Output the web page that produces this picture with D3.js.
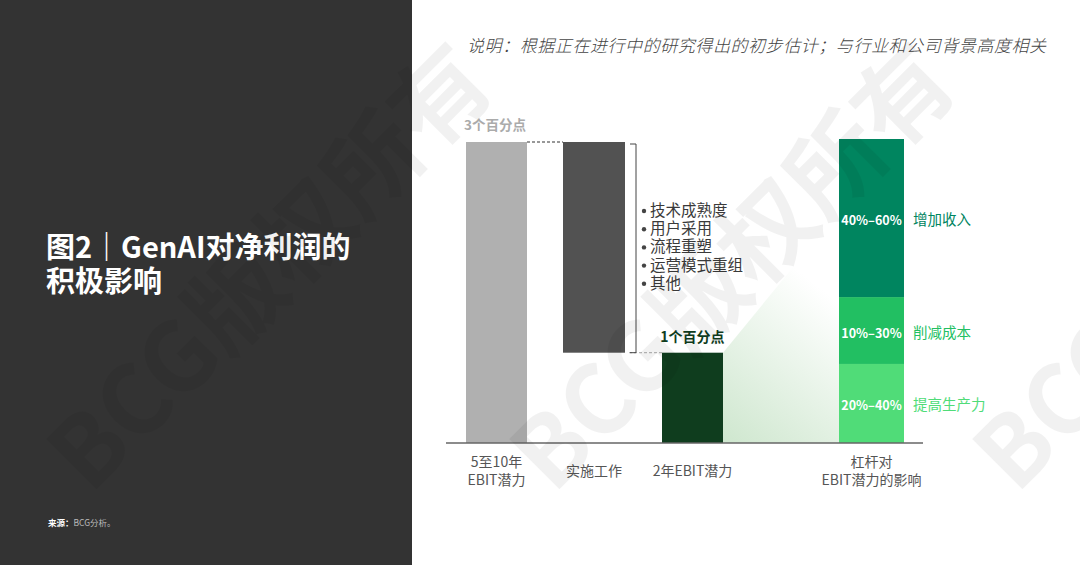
<!DOCTYPE html>
<html><head><meta charset="utf-8">
<script src="https://cdn.jsdelivr.net/npm/d3@7/dist/d3.min.js"></script>
<style>
html,body{margin:0;padding:0;background:#fff;}
svg{display:block;font-family:"Noto Sans CJK SC","Noto Sans",sans-serif;}
</style></head>
<body>
<svg id="chart" width="1080" height="565"></svg>
<script>
// ---------- data ----------
const categories = ["5至10年\nEBIT潜力", "实施工作", "2年EBIT潜力", "杠杆对\nEBIT潜力的影响"];
const potentialPoints = 3;        // 5-10 year EBIT potential (pp)
const twoYearPoints = 0.9;        // 2-year EBIT potential as drawn
const topLabel = "3个百分点";
const twoYearLabel = "1个百分点";
const barriers = ["技术成熟度", "用户采用", "流程重塑", "运营模式重组", "其他"];
const leverNames = ["提高生产力", "削减成本", "增加收入"];
const leverRanges = ["20%–40%", "10%–30%", "40%–60%"];
const leverShares = [26, 22, 52];  // share of stacked bar height
const title = ["图2｜GenAI对净利润的", "积极影响"];
const note = "说明：根据正在进行中的研究得出的初步估计；与行业和公司背景高度相关";
const sourceLabel = "来源：";
const sourceText = "BCG分析。";
const watermark = "BCG版权所有";

// ---------- layout ----------
const svg = d3.select("#chart");
const W = 1080, H = 565;
const panelW = 412;
const base = 443;

svg.append("rect").attr("x", 0).attr("y", 0).attr("width", panelW).attr("height", H).attr("fill", "#333333");

const x = d3.scaleOrdinal().domain(categories).range([496.5, 594, 692.5, 871.5]);
const barW = d3.scaleOrdinal().domain(categories).range([61, 62, 61, 65]);
const y = d3.scaleLinear().domain([0, potentialPoints]).range([base, 142]);
const yShare = d3.scaleLinear().domain([0, d3.sum(leverShares)]).range([base, 139]);

const defs = svg.append("defs");
const grad = defs.append("linearGradient").attr("id", "g1")
  .attr("gradientUnits", "userSpaceOnUse")
  .attr("x1", 723).attr("y1", 440).attr("x2", 835).attr("y2", 300);
grad.append("stop").attr("offset", 0).attr("stop-color", "#cfe7cf");
grad.append("stop").attr("offset", 1).attr("stop-color", "#ffffff");

// gradient wedge between 2-year bar and lever bar
const c2 = categories[2], c3 = categories[3];
const gx0 = x(c2) + barW(c2) / 2, gx1 = x(c3) - barW(c3) / 2;
svg.append("path")
  .attr("d", `M${gx0},${base} L${gx0},${y(twoYearPoints)} L${gx1},${y(twoYearPoints) - (gx1 - gx0) * 1.22} L${gx1},${base} Z`)
  .attr("fill", "url(#g1)");

// bar 1
const c0 = categories[0], c1 = categories[1];
svg.append("rect").attr("x", x(c0) - barW(c0) / 2).attr("width", barW(c0))
  .attr("y", y(potentialPoints)).attr("height", base - y(potentialPoints)).attr("fill", "#b0b0b0");
// bar 2 (implementation gap, floating)
svg.append("rect").attr("x", x(c1) - barW(c1) / 2).attr("width", barW(c1))
  .attr("y", y(potentialPoints)).attr("height", y(twoYearPoints) - y(potentialPoints)).attr("fill", "#525252");
// bar 3
svg.append("rect").attr("x", x(c2) - barW(c2) / 2).attr("width", barW(c2))
  .attr("y", y(twoYearPoints)).attr("height", base - y(twoYearPoints)).attr("fill", "#0f3d1e");

// dashed connectors
svg.append("line").attr("x1", x(c0) + barW(c0) / 2).attr("x2", x(c1) - barW(c1) / 2)
  .attr("y1", y(potentialPoints)).attr("y2", y(potentialPoints))
  .attr("stroke", "#777").attr("stroke-width", 1.5).attr("stroke-dasharray", "3,2");
svg.append("line").attr("x1", x(c1) + barW(c1) / 2 + 4).attr("x2", x(c2) - barW(c2) / 2)
  .attr("y1", y(twoYearPoints)).attr("y2", y(twoYearPoints))
  .attr("stroke", "#aaa").attr("stroke-width", 1).attr("stroke-dasharray", "3,2");

// bracket
const bx = x(c1) + barW(c1) / 2 + 11;
svg.append("path")
  .attr("d", `M${bx - 6},${y(potentialPoints) + 2} H${bx} V${y(twoYearPoints)} H${bx - 6}`)
  .attr("fill", "none").attr("stroke", "#444").attr("stroke-width", 1);

// barrier bullet list
const bl = svg.append("g");
barriers.forEach((t, i) => {
  const yy = 216 + i * 18.2;
  bl.append("circle").attr("cx", bx + 8).attr("cy", yy - 5).attr("r", 2.2).attr("fill", "#444");
  bl.append("text").attr("x", bx + 14).attr("y", yy).attr("font-size", 15.5).attr("fill", "#3a3a3a").text(t);
});

// stacked lever bar
let cum = 0;
const levColors = ["#50dc78", "#22bf62", "#00855f"];
leverShares.forEach((s, i) => {
  const y0 = yShare(cum), y1 = yShare(cum + s);
  cum += s;
  svg.append("rect").attr("x", x(c3) - barW(c3) / 2).attr("width", barW(c3))
    .attr("y", y1).attr("height", y0 - y1).attr("fill", levColors[i]);
  const cy = (y0 + y1) / 2 + 2;
  svg.append("text").attr("x", x(c3)).attr("y", cy + 5).attr("text-anchor", "middle")
    .attr("font-size", 12.5).attr("font-weight", 700).attr("fill", "#fff").text(leverRanges[i]);
  svg.append("text").attr("x", x(c3) + barW(c3) / 2 + 9).attr("y", cy + 5)
    .attr("font-size", 14.5).attr("fill", levColors[i]).text(leverNames[i]);
});

// baseline
svg.append("line").attr("x1", 446).attr("x2", 923).attr("y1", base).attr("y2", base)
  .attr("stroke", "#666").attr("stroke-width", 1.5);

// category labels
categories.forEach(c => {
  const lines = c.split("\n");
  const startY = lines.length === 1 ? 476 : 467;
  lines.forEach((l, i) => {
    svg.append("text").attr("x", x(c)).attr("y", startY + i * 18).attr("text-anchor", "middle")
      .attr("font-size", 14).attr("fill", "#555").text(l);
  });
});

// value labels
svg.append("text").attr("x", x(c0) - barW(c0) / 2 - 2).attr("y", 130)
  .attr("font-size", 13.5).attr("font-weight", 700).attr("fill", "#ababab").text(topLabel);
svg.append("text").attr("x", x(c2)).attr("y", 342).attr("text-anchor", "middle")
  .attr("font-size", 14).attr("font-weight", 700).attr("fill", "#0f3d1e").text(twoYearLabel);

// note
svg.append("text").attr("x", 467).attr("y", 52)
  .attr("textLength", 579).attr("lengthAdjust", "spacing")
  .attr("font-size", 17).attr("font-style", "italic").attr("font-weight", 300)
  .attr("fill", "#444").text(note);

// title
title.forEach((t, i) => {
  svg.append("text").attr("x", 46).attr("y", 258 + i * 34).attr("font-size", 29)
    .attr("font-weight", 700).attr("fill", "#fff").text(t);
});

// source
const src = svg.append("text").attr("x", 48).attr("y", 526).attr("font-size", 8.5);
src.append("tspan").attr("font-weight", 700).attr("fill", "#fff").text(sourceLabel);
src.append("tspan").attr("fill", "#bbb").text(sourceText);

// watermarks
[265, 728, 1191].forEach(cx => {
  svg.append("text").attr("transform", `translate(${cx},262) rotate(-45)`)
    .attr("text-anchor", "middle").attr("dominant-baseline", "central")
    .attr("font-size", 96).attr("font-weight", 700)
    .attr("fill", "rgba(0,0,0,0.055)").text(watermark);
});
</script>
</body></html>
